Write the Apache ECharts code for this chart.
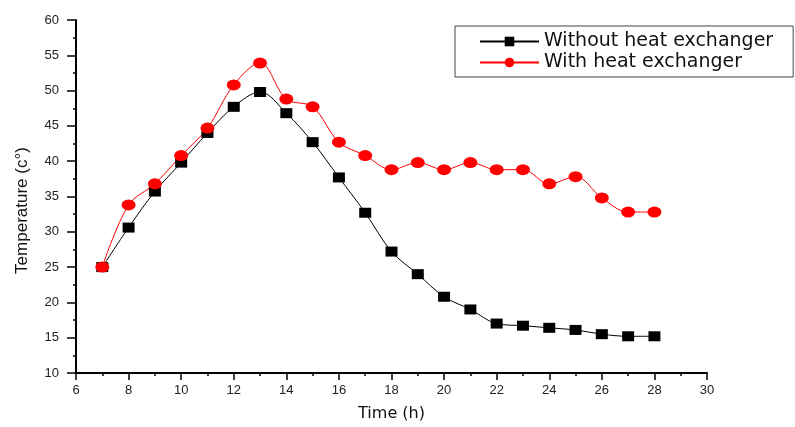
<!DOCTYPE html>
<html>
<head>
<meta charset="utf-8">
<script src="https://cdn.jsdelivr.net/npm/echarts@6/dist/echarts.min.js"></script>
<style>html,body{margin:0;padding:0;background:#fff;}#c{width:795px;height:427px;}</style>
</head>
<body>
<div id="c"></div>
<script>
var hours = [7,8,9,10,11,12,13,14,15,16,17,18,19,20,21,22,23,24,25,26,27,28];
var withoutHx = [25,30.6,35.7,39.8,44,47.7,49.8,46.8,42.7,37.7,32.7,27.2,24,20.8,19,17,16.7,16.4,16.1,15.5,15.2,15.2];
var withHx = [25,33.8,36.8,40.8,44.7,50.8,53.9,48.8,47.7,42.7,40.8,38.8,39.8,38.8,39.8,38.8,38.8,36.8,37.8,34.8,32.8,32.8];
var seriesNames = ['Without heat exchanger','With heat exchanger'];

function pairs(vals){ return hours.map(function(h,i){ return [h, vals[i]]; }); }

var chart = echarts.init(document.getElementById('c'), null, {renderer:'canvas'});
var font = 'Liberation Sans, Arial, sans-serif';
var wide = 'DejaVu Sans, sans-serif';
chart.setOption({
  animation:false,
  backgroundColor:'#fff',
  grid:{left:76, top:20, right:88, bottom:50, containLabel:false},
  legend:{
    orient:'vertical', left:455, top:26,
    borderColor:'#444', borderWidth:1, borderRadius:0,
    padding:[5,20,4,24], itemGap:0, itemWidth:59, itemHeight:12,
    textStyle:{fontFamily:wide, fontSize:19, lineHeight:21, color:'#111'},
    data:seriesNames
  },
  xAxis:{
    type:'value', min:6, max:30, interval:2,
    name:'Time (h)', nameLocation:'middle', nameGap:33,
    nameTextStyle:{fontFamily:wide, fontSize:16, color:'#111'},
    axisLine:{show:true, onZero:false, lineStyle:{color:'#000', width:2}},
    axisTick:{show:true, length:7, lineStyle:{color:'#000', width:1.5}},
    minorTick:{show:true, splitNumber:2, length:3, lineStyle:{color:'#000', width:1.5}},
    axisLabel:{fontFamily:font, fontSize:13, color:'#222', margin:11},
    splitLine:{show:false}
  },
  yAxis:{
    type:'value', min:10, max:60, interval:5,
    name:'Temperature (c°)', nameLocation:'middle', nameGap:45,
    nameTextStyle:{fontFamily:font, fontSize:17, color:'#111', padding:[0,28,0,0]},
    axisLine:{show:true, onZero:false, lineStyle:{color:'#000', width:2}},
    axisTick:{show:true, length:9, lineStyle:{color:'#000', width:1.5}},
    minorTick:{show:true, splitNumber:2, length:3, lineStyle:{color:'#000', width:1.5}},
    axisLabel:{fontFamily:font, fontSize:13, color:'#222', margin:17},
    splitLine:{show:false}
  },
  series:[
    {
      name:seriesNames[0], type:'line', data:pairs(withoutHx), smooth:0.35,
      symbol:'rect', symbolSize:[12,10],
      lineStyle:{color:'#000', width:1},
      itemStyle:{color:'#000'}
    },
    {
      name:seriesNames[1], type:'line', data:pairs(withHx), smooth:0.35,
      symbol:'circle', symbolSize:[14,11],
      lineStyle:{color:'#ff0000', width:1},
      itemStyle:{color:'#ff0000'}
    }
  ]
});
</script>
</body>
</html>
